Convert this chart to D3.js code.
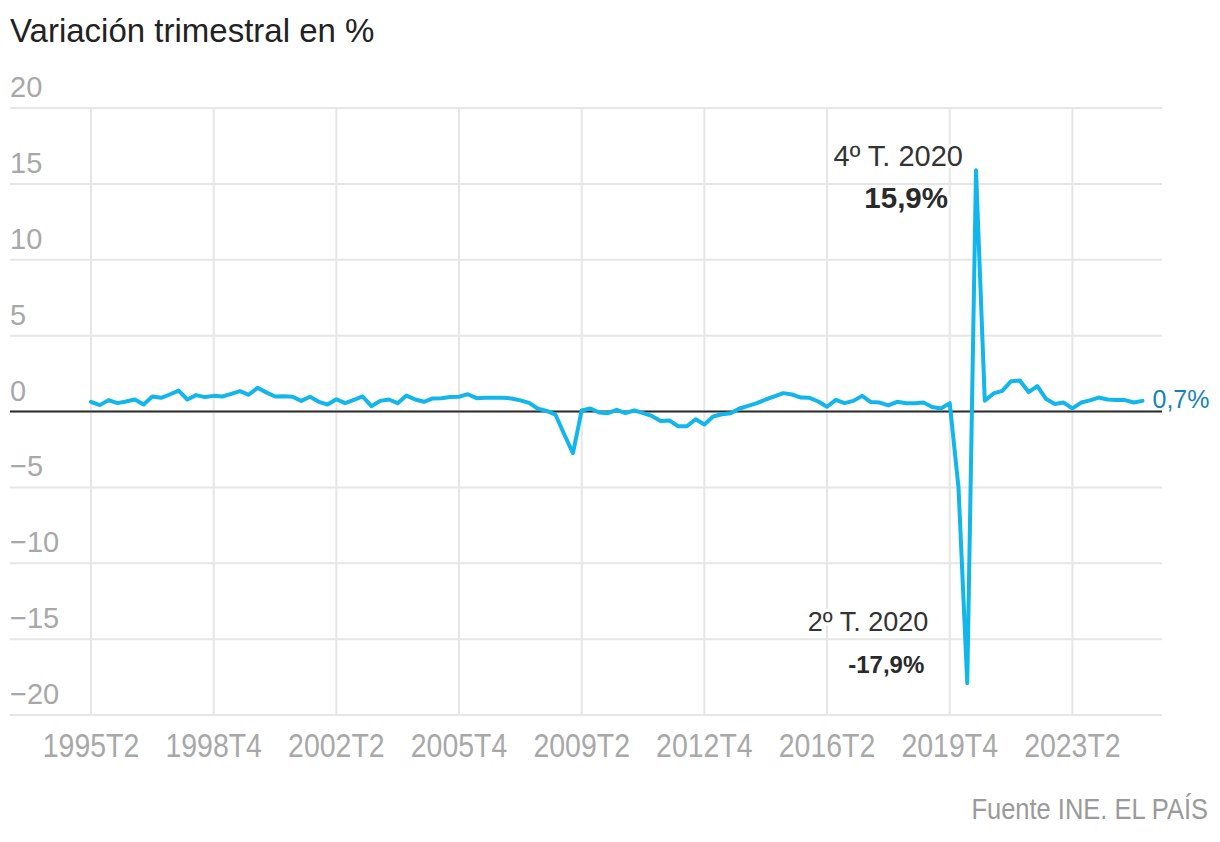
<!DOCTYPE html>
<html>
<head>
<meta charset="utf-8">
<script src="https://cdn.jsdelivr.net/npm/d3@7"></script>
<style>
  html, body { margin: 0; padding: 0; background: #fff; }
  svg { display: block; }
</style>
</head>
<body>
<svg id="chart" width="1220" height="842"></svg>
<script>
// ---------- DATA ----------
const title = "Variación trimestral en %";
const source = "Fuente INE. EL PAÍS";
const startYear = 1995, startQuarter = 2;
const values = [
  0.64, 0.42, 0.75,                 // 1995 T2-T4
  0.55, 0.66, 0.79, 0.46,           // 1996
  0.99, 0.90, 1.12, 1.38,           // 1997
  0.79, 1.08, 0.95, 1.03,           // 1998
  0.99, 1.16, 1.34, 1.10,           // 1999
  1.56, 1.26, 0.99, 1.01,           // 2000
  0.97, 0.70, 0.97, 0.64,           // 2001
  0.46, 0.81, 0.55, 0.77,           // 2002
  0.99, 0.35, 0.70, 0.79,           // 2003
  0.55, 1.05, 0.79, 0.64,           // 2004
  0.86, 0.88, 0.95, 0.97,           // 2005
  1.14, 0.88, 0.90, 0.90,           // 2006
  0.90, 0.86, 0.73, 0.57,           // 2007
  0.18, 0.04, -0.20, -1.50,         // 2008
  -2.74, 0.07, 0.20, -0.07,         // 2009
  -0.11, 0.11, -0.11, 0.07,         // 2010
  -0.11, -0.29, -0.62, -0.59,       // 2011
  -0.97, -0.97, -0.51, -0.86,       // 2012
  -0.33, -0.18, -0.11, 0.20,        // 2013
  0.37, 0.55, 0.79, 0.99,           // 2014
  1.21, 1.12, 0.92, 0.90,           // 2015
  0.66, 0.31, 0.77, 0.55,           // 2016
  0.70, 1.03, 0.62, 0.59,           // 2017
  0.40, 0.64, 0.55, 0.55,           // 2018
  0.59, 0.29, 0.20, 0.55,           // 2019
  -5.0, -17.9, 15.9, 0.71,          // 2020
  1.19, 1.36, 2.00, 2.04,           // 2021
  1.28, 1.67, 0.82, 0.49,           // 2022
  0.59, 0.20, 0.59, 0.73,           // 2023
  0.92, 0.79, 0.75, 0.75,           // 2024
  0.59, 0.70                        // 2025 T1-T2
];
const xTickLabels = ["1995T2","1998T4","2002T2","2005T4","2009T2","2012T4","2016T2","2019T4","2023T2"];
const yTickValues = [20, 15, 10, 5, 0, -5, -10, -15, -20];
const peakQuarter = "2020T3", peakLabel = "4º T. 2020", peakValueLabel = "15,9%";
const troughQuarter = "2020T2", troughLabel = "2º T. 2020", troughValueLabel = "-17,9%";
const lastLabel = "0,7%";

// category labels (quarters)
const quarters = [];
{
  let yr = startYear, q = startQuarter;
  for (let i = 0; i < values.length; i++) {
    quarters.push(yr + "T" + q);
    q++; if (q > 4) { q = 1; yr++; }
  }
}
const data = quarters.map((q, i) => ({ q, v: values[i] }));

// ---------- CHART ----------
const svg = d3.select("#chart");
const regular = "'Liberation Sans', Arial, sans-serif";

const x = d3.scalePoint().domain(quarters).range([91, 1142.5]);
const y = d3.scaleLinear().domain([-20, 20]).range([715, 108]);
const gridLeft = 10, gridRight = 1162;

// title
svg.append("text").attr("x", 10).attr("y", 42)
  .attr("font-family", regular).attr("font-size", 33).attr("fill", "#222")
  .text(title);

// horizontal grid + y labels
const yg = svg.append("g");
yg.selectAll("line").data(yTickValues).join("line")
  .attr("x1", gridLeft).attr("x2", gridRight)
  .attr("y1", d => y(d)).attr("y2", d => y(d))
  .attr("stroke", "#e6e6e6").attr("stroke-width", 2);
yg.selectAll("text").data(yTickValues).join("text")
  .attr("x", 10).attr("y", d => y(d) - 11)
  .attr("font-family", regular).attr("font-size", 29).attr("fill", "#a8a8a8")
  .text(d => d < 0 ? "\u2212" + Math.abs(d) : String(d));

// vertical grid + x labels (condensed)
const xg = svg.append("g");
xg.selectAll("line").data(xTickLabels).join("line")
  .attr("x1", d => x(d)).attr("x2", d => x(d))
  .attr("y1", y(20)).attr("y2", y(-20))
  .attr("stroke", "#e6e6e6").attr("stroke-width", 2);
xg.selectAll("text").data(xTickLabels).join("text")
  .attr("transform", d => `translate(${x(d)},757) scale(0.85,1)`)
  .attr("text-anchor", "middle")
  .attr("font-family", regular).attr("font-size", 33.5).attr("fill", "#a8a8a8")
  .text(d => d);

// zero line
svg.append("line")
  .attr("x1", gridLeft).attr("x2", gridRight)
  .attr("y1", y(0)).attr("y2", y(0))
  .attr("stroke", "#2b2b2b").attr("stroke-width", 2);

// annotations (with white halo)
function label(txt, xx, yy, size, weight, color) {
  svg.append("text").attr("x", xx).attr("y", yy)
    .attr("text-anchor", "end")
    .attr("font-family", regular).attr("font-size", size)
    .attr("font-weight", weight).attr("fill", color)
    .attr("stroke", "#fff").attr("stroke-width", 6).attr("paint-order", "stroke")
    .attr("stroke-linejoin", "round")
    .text(txt);
}
const px = x(peakQuarter), py = y(values[quarters.indexOf(peakQuarter)]);
label(peakLabel, px - 13, py - 4, 29, "normal", "#333");
label(peakValueLabel, px - 28, py + 38, 29.5, "bold", "#2a2a2a");
const tx = x(troughQuarter), ty = y(values[quarters.indexOf(troughQuarter)]);
label(troughLabel, tx - 39, ty - 52, 27, "normal", "#333");
label(troughValueLabel, tx - 43, ty - 10, 24, "bold", "#2a2a2a");

// line
svg.append("path").datum(data)
  .attr("fill", "none").attr("stroke", "#12b6ea").attr("stroke-width", 4)
  .attr("stroke-linejoin", "round").attr("stroke-linecap", "round")
  .attr("d", d3.line().x(d => x(d.q)).y(d => y(d.v)));

// last value label
const last = data[data.length - 1];
svg.append("text").attr("x", x(last.q) + 10).attr("y", y(last.v) + 7)
  .attr("font-family", regular).attr("font-size", 25).attr("fill", "#1583b8")
  .text(lastLabel);

// source (condensed)
svg.append("text").attr("transform", "translate(1208,819) scale(0.85,1)")
  .attr("text-anchor", "end")
  .attr("font-family", regular).attr("font-size", 30).attr("fill", "#9a9a9a")
  .text(source);
</script>
</body>
</html>
